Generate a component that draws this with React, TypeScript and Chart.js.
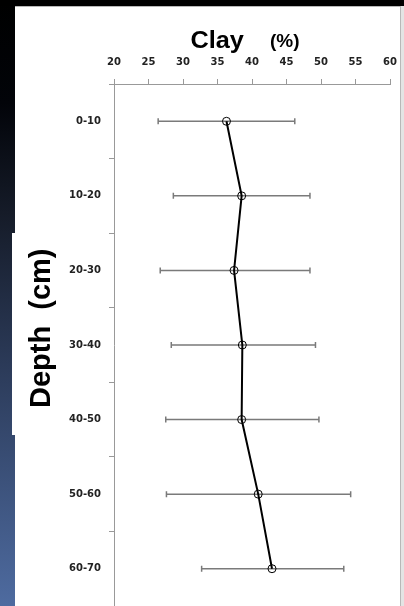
import React, { useEffect, useRef } from "react";
import { Chart, registerables } from "chart.js";

Chart.register(...registerables);

const depthLabels = ["0-10", "10-20", "20-30", "30-40", "40-50", "50-60", "60-70"];
const clayMean = [36.3, 38.5, 37.4, 38.6, 38.5, 40.9, 42.9];
const clayErrLow = [9.9, 9.9, 10.7, 10.3, 11.0, 13.3, 10.2];
const clayErrHigh = [9.9, 9.9, 11.0, 10.6, 11.2, 13.4, 10.4];
const xTickMin = 20;
const xTickMax = 60;
const xTickStep = 5;

const backgroundPlugin = {
  id: "slideBackground",
  beforeDraw(chart: any) {
    const ctx = chart.ctx as CanvasRenderingContext2D;
    const W = chart.width;
    const H = chart.height;
    ctx.save();
    ctx.fillStyle = "#000";
    ctx.fillRect(0, 0, W, H);
    const g = ctx.createLinearGradient(0, 0, 0, H);
    g.addColorStop(0, "#000000");
    g.addColorStop(0.17, "#020409");
    g.addColorStop(0.35, "#151b28");
    g.addColorStop(0.6, "#2b3a58");
    g.addColorStop(1, "#4e6ba0");
    ctx.fillStyle = g;
    ctx.fillRect(0, 6, 15, H - 6);
    ctx.fillStyle = "#ffffff";
    ctx.fillRect(15, 6, W - 15, H - 6);
    ctx.fillRect(12, 233, 4, 202);
    ctx.fillStyle = "#e4e4e4";
    ctx.fillRect(401, 6, W - 401, H - 6);
    ctx.strokeStyle = "#b8b8b8";
    ctx.lineWidth = 1;
    ctx.beginPath();
    ctx.moveTo(15, 6.5);
    ctx.lineTo(401, 6.5);
    ctx.moveTo(400.5, 6);
    ctx.lineTo(400.5, H);
    ctx.stroke();
    ctx.restore();
  },
  afterDraw(chart: any) {
    const ctx = chart.ctx as CanvasRenderingContext2D;
    ctx.save();
    ctx.fillStyle = "#000";
    ctx.textBaseline = "alphabetic";
    ctx.textAlign = "left";
    ctx.font = "bold 23px 'Liberation Sans', Arial, sans-serif";
    ctx.save();
    ctx.translate(190.5, 48);
    ctx.scale(1.1, 1);
    ctx.fillText("Clay", 0, 0);
    ctx.restore();
    ctx.font = "bold 19px 'Liberation Sans', Arial, sans-serif";
    ctx.fillText("(%)", 270, 47);
    ctx.font = "bold 29px 'Liberation Sans', Arial, sans-serif";
    ctx.translate(50, 408);
    ctx.rotate(-Math.PI / 2);
    ctx.fillText("Depth  (cm)", 0, 0);
    ctx.restore();
  },
};

const errorBarPlugin = {
  id: "errorBars",
  beforeDatasetsDraw(chart: any) {
    const ctx = chart.ctx as CanvasRenderingContext2D;
    const xs = chart.scales.x;
    const ys = chart.scales.y;
    ctx.save();
    ctx.strokeStyle = "#7a7a7a";
    ctx.lineWidth = 1.5;
    clayMean.forEach((v, i) => {
      const y = ys.getPixelForValue(i);
      const x1 = xs.getPixelForValue(v - clayErrLow[i]);
      const x2 = xs.getPixelForValue(v + clayErrHigh[i]);
      ctx.beginPath();
      ctx.moveTo(x1, y);
      ctx.lineTo(x2, y);
      ctx.moveTo(x1, y - 3);
      ctx.lineTo(x1, y + 3);
      ctx.moveTo(x2, y - 3);
      ctx.lineTo(x2, y + 3);
      ctx.stroke();
    });
    ctx.restore();
  },
};

function zeroPadding(scale: any) {
  scale.paddingLeft = 0;
  scale.paddingRight = 0;
  scale.paddingTop = 0;
  scale.paddingBottom = 0;
}

export default function App() {
  const ref = useRef<HTMLCanvasElement | null>(null);
  useEffect(() => {
    if (!ref.current) return;
    const chart = new Chart(ref.current, {
      type: "line",
      data: {
        labels: depthLabels,
        datasets: [
          {
            label: "Clay (%)",
            data: clayMean,
            borderColor: "#000",
            borderWidth: 2,
            pointRadius: 4,
            pointBorderWidth: 1,
            pointBorderColor: "#000",
            pointBackgroundColor: "rgba(0,0,0,0)",
            fill: false,
            tension: 0,
            clip: false,
          },
        ],
      },
      options: {
        indexAxis: "y",
        responsive: false,
        animation: false,
        layout: { autoPadding: false, padding: { left: 0, right: 14, top: 0, bottom: 0 } },
        plugins: {
          legend: { display: false },
          tooltip: { enabled: false },
          title: { display: false },
        },
        scales: {
          x: {
            type: "linear",
            position: "top",
            min: xTickMin,
            max: xTickMax,
            ticks: {
              stepSize: xTickStep,
              color: "#222",
              padding: 11,
              font: { family: "'DejaVu Sans'", size: 10, weight: "bold" },
            },
            grid: { drawOnChartArea: false, drawTicks: true, tickLength: 5, color: "#999" },
            border: { color: "#999", width: 1 },
            afterFit(scale: any) {
              scale.height = 84;
              zeroPadding(scale);
            },
          },
          y: {
            type: "category",
            offset: true,
            ticks: {
              color: "#222",
              padding: 8,
              font: { family: "'DejaVu Sans'", size: 10, weight: "bold" },
            },
            grid: { offset: true, drawOnChartArea: false, drawTicks: true, tickLength: 5, color: "#999" },
            border: { color: "#999", width: 1 },
            afterFit(scale: any) {
              scale.width = 114;
              zeroPadding(scale);
            },
          },
        },
      },
      plugins: [backgroundPlugin, errorBarPlugin],
    } as any);
    return () => chart.destroy();
  }, []);
  return (
    <canvas
      ref={ref}
      width={404}
      height={606}
      style={{ position: "absolute", left: 0, top: 0, width: 404, height: 606 }}
    />
  );
}
